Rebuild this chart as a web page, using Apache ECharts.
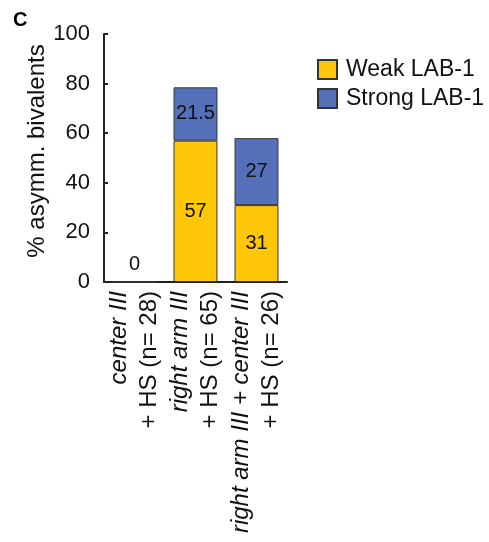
<!doctype html>
<html lang="en">
<head>
    <meta charset="UTF-8">
    <title>asymm. bivalents</title>
    <script src="https://cdn.jsdelivr.net/npm/echarts@6/dist/echarts.min.js"></script>
</head>
<body style="margin:0;">
<div id="chart" style="width: 489px;height: 542px;"></div>
<script type="text/javascript">
    // categories: [italic part, n part]
    const catTop = ['center III', 'right arm III', 'right arm III + center III'];
    const catBottom = ['+ HS (n= 28)', '+ HS (n= 65)', '+ HS (n= 26)'];
    const weakVals = [0, 57, 31];
    const strongVals = [0, 21.5, 27];
    const yTicks = [0, 20, 40, 60, 80, 100];

    const font = 'Liberation Sans, Arial, sans-serif';
    let categories = catTop.map(function (t, i) {
        return '{i|' + t + '}\n{n|' + catBottom[i] + '}';
    });

    let weakData = weakVals.map(function (v, i) {
        if (v === 0) {
            return {value: v, label: {position: 'top', distance: 7}};
        }
        return v;
    });

    let chart = echarts.init(document.getElementById('chart'));
    chart.setOption({
        animation: false,
        textStyle: {fontFamily: font},
        title: {
            text: 'C',
            left: 8,
            top: 5,
            textStyle: {fontSize: 20, fontWeight: 'bold', color: '#000', fontFamily: font}
        },
        legend: {
            orient: 'vertical',
            left: 317,
            top: 58,
            padding: 0,
            itemWidth: 19,
            itemHeight: 19,
            itemGap: 6,
            icon: 'rect',
            textStyle: {fontSize: 23, lineHeight: 19, color: '#111', fontFamily: font, padding: [0, 0, 0, 4]},
            data: ['Weak LAB-1', 'Strong LAB-1']
        },
        grid: {left: 104, right: 202, top: 34, bottom: 260},
        xAxis: {
            type: 'category',
            data: categories,
            axisLine: {lineStyle: {color: '#222', width: 2}},
            axisTick: {inside: true, length: 5, lineStyle: {color: '#222', width: 2}},
            axisLabel: {
                rotate: 90,
                margin: 9,
                interval: 0,
                color: '#111',
                rich: {
                    i: {fontSize: 24, fontStyle: 'italic', lineHeight: 30, fontFamily: font, color: '#111'},
                    n: {fontSize: 24, lineHeight: 30, fontFamily: font, color: '#111'}
                }
            }
        },
        yAxis: {
            type: 'value',
            min: yTicks[0],
            max: yTicks[yTicks.length - 1],
            interval: yTicks[1] - yTicks[0],
            name: '% asymm. bivalents',
            nameLocation: 'middle',
            nameGap: 48,
            nameTextStyle: {fontSize: 24, color: '#111', fontFamily: font, padding: [0, 0, 0, 14]},
            axisLine: {show: true, lineStyle: {color: '#222', width: 2}},
            axisTick: {show: true, inside: true, length: 4, lineStyle: {color: '#222', width: 2}},
            axisLabel: {fontSize: 22, color: '#111', margin: 14, fontFamily: font},
            splitLine: {show: false}
        },
        series: [
            {
                name: 'Weak LAB-1',
                type: 'bar',
                stack: 'total',
                barCategoryGap: '28%',
                data: weakData,
                itemStyle: {color: '#FFC708', borderColor: '#333', borderWidth: 1},
                label: {show: true, position: 'inside', fontSize: 20, color: '#111', fontFamily: font}
            },
            {
                name: 'Strong LAB-1',
                type: 'bar',
                stack: 'total',
                data: strongVals,
                itemStyle: {color: '#5470B8', borderColor: '#333', borderWidth: 1},
                label: {
                    show: true, position: 'inside', fontSize: 20, color: '#111', fontFamily: font,
                    formatter: function (p) { return p.value === 0 ? '' : p.value; }
                }
            }
        ]
    });
</script>
</body>
</html>
